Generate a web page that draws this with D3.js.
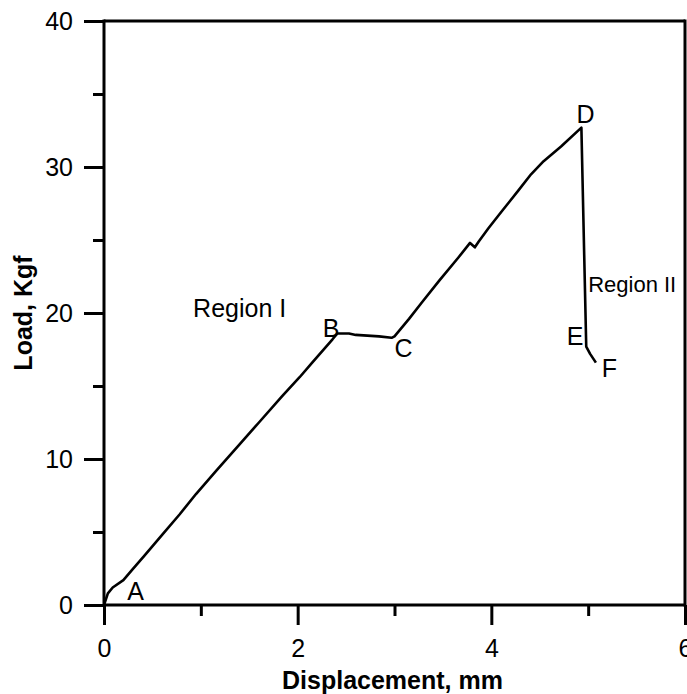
<!DOCTYPE html>
<html>
<head>
<meta charset="utf-8">
<script src="https://cdn.jsdelivr.net/npm/d3@7"></script>
<style>
  body { margin: 0; background: #fff; }
  svg { display: block; font-family: "Liberation Sans", Arial, sans-serif; }
</style>
</head>
<body>
<svg id="chart"></svg>
<script>
// load-displacement curve
const disp = [0, 0.04, 0.09, 0.2, 0.29, 0.42, 0.6, 0.78, 0.95, 1.16, 1.4, 1.6, 1.84, 2.02, 2.15, 2.36, 2.41,
              2.53, 2.6, 2.84, 2.97, 3.0, 3.15, 3.28, 3.46, 3.66, 3.78, 3.83, 3.87, 3.97, 4.1, 4.28, 4.41,
              4.54, 4.72, 4.93, 4.98, 5.02, 5.08]
const load = [0, 0.8, 1.2, 1.7, 2.4, 3.4, 4.8, 6.2, 7.6, 9.2, 11.0, 12.5, 14.3, 15.6, 16.6, 18.2, 18.6,
              18.6, 18.5, 18.4, 18.3, 18.4, 19.6, 20.7, 22.2, 23.8, 24.8, 24.5, 24.9, 25.8, 26.9, 28.4, 29.5,
              30.4, 31.4, 32.7, 17.7, 17.2, 16.6]

const xMajor = [0, 2, 4, 6]
const xMinor = [1, 3, 5]
const yMajor = [0, 10, 20, 30, 40]
const yMinor = [5, 15, 25, 35]

// annotations, anchored in data units (left edge / baseline)
const noteText = ['A', 'B', 'C', 'D', 'E', 'F', 'Region I', 'Region II']
const noteX = [0.24, 2.26, 3.0, 4.88, 4.78, 5.14, 0.92, 5.0]
const noteY = [0.34, 18.36, 17.0, 33.0, 17.8, 15.6, 19.73, 21.44]

let w = 687
let h = 694

let x = d3.scaleLinear([0, 6], [104, 685])
let y = d3.scaleLinear([0, 40], [605, 21])

let svg = d3.select('#chart')
    .attr('width', w)
    .attr('height', h)

// minor ticks first, then major ticks with labels
function drawAxis(axis, transform) {
    let g = svg.append('g')
        .attr('transform', transform)
        .call(axis)
    g.select('.domain').remove()
    g.selectAll('.tick line').attr('stroke', '#000').attr('stroke-width', 3)
    g.selectAll('.tick text')
        .attr('fill', '#000')
        .attr('font-size', 25)
    return g
}

drawAxis(d3.axisBottom(x).tickValues(xMinor).tickSize(11).tickFormat(''), `translate(0,${y(0)})`)
drawAxis(d3.axisLeft(y).tickValues(yMinor).tickSize(11).tickFormat(''), `translate(${x(0)},0)`)

let gx = drawAxis(d3.axisBottom(x).tickValues(xMajor).tickSize(20).tickPadding(14).tickFormat(d3.format('d')),
    `translate(0,${y(0)})`)
let gy = drawAxis(d3.axisLeft(y).tickValues(yMajor).tickSize(20).tickPadding(11).tickFormat(d3.format('d')),
    `translate(${x(0)},0)`)

// frame
let frame = svg.append('g')
    .attr('stroke', '#000')
    .attr('stroke-width', 3)
    .attr('fill', 'none')

frame.append('line').attr('x1', x(0)).attr('x2', x(6)).attr('y1', y(0)).attr('y2', y(0))
frame.append('line').attr('x1', x(0)).attr('x2', x(6)).attr('y1', y(40)).attr('y2', y(40))
frame.append('line').attr('x1', x(0)).attr('x2', x(0)).attr('y1', y(40) - 1.5).attr('y2', y(0) + 1.5)
frame.append('line').attr('x1', x(6)).attr('x2', x(6)).attr('y1', y(40) - 1.5).attr('y2', y(0) + 1.5)

// axis titles
svg.append('text')
    .attr('x', (x(0) + x(6)) / 2 - 2)
    .attr('y', 689)
    .attr('text-anchor', 'middle')
    .attr('font-size', 25)
    .attr('font-weight', 'bold')
    .text('Displacement, mm')

svg.append('text')
    .attr('transform', `translate(32,${(y(0) + y(40)) / 2}) rotate(-90)`)
    .attr('text-anchor', 'middle')
    .attr('font-size', 25)
    .attr('font-weight', 'bold')
    .text('Load, Kgf')

// curve
let line = d3.line()
    .x(i => x(disp[i]))
    .y(i => y(load[i]))

svg.append('path')
    .attr('d', line(d3.range(disp.length)))
    .attr('fill', 'none')
    .attr('stroke', '#000')
    .attr('stroke-width', 2.6)
    .attr('stroke-linejoin', 'round')

// point labels
svg.append('g')
    .selectAll('text')
    .data(noteText)
    .enter().append('text')
        .attr('x', (d, i) => x(noteX[i]))
        .attr('y', (d, i) => y(noteY[i]))
        .attr('font-size', d => d == 'Region II' ? 22 : 25)
        .attr('fill', '#000')
        .text(d => d)
</script>
</body>
</html>
